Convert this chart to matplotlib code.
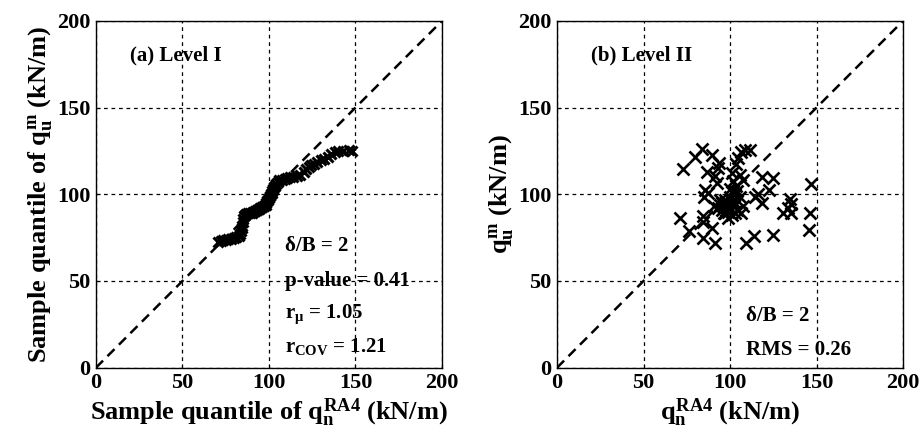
import matplotlib
matplotlib.use("Agg")
import matplotlib.pyplot as plt

plt.rcParams['font.family'] = ['Liberation Serif', 'DejaVu Serif']
plt.rcParams['font.weight'] = 'bold'
plt.rcParams['mathtext.fontset'] = 'custom'
plt.rcParams['mathtext.rm'] = 'Liberation Serif:bold'
plt.rcParams['mathtext.it'] = 'Liberation Serif:bold'
plt.rcParams['mathtext.bf'] = 'Liberation Serif:bold'

# ---- Panel (a): QQ plot sample quantiles ----
qq_x = [70.5, 72, 73.5, 75, 76.5, 78, 79.5, 81, 82.5,
        83.5, 84, 84.2, 84.5, 84.8, 85, 85.5, 86,
        87, 88, 89, 90, 91, 92, 93, 94, 95, 96, 97, 98, 98.5, 99, 99.5,
        100, 100.5, 101, 101.5, 102, 102.5, 103, 103.5, 104, 105, 106,
        107.5, 109, 110.5, 112, 114, 116, 118, 120, 121.5, 123, 124.5,
        126, 128, 130, 132, 134, 136, 138, 140, 143, 146, 148]
qq_y = [72.5, 73, 73.5, 73.5, 74, 74.5, 75, 75.5, 76,
        77, 79, 80.5, 82, 84, 86, 87.5, 88,
        88.5, 89, 89, 89.5, 90, 90.5, 91, 91.5, 92, 92.5, 93, 94, 95, 96, 97,
        98, 99, 100, 101, 102, 103, 104, 105, 106, 107, 108,
        108.5, 109, 109.5, 110, 110, 110.5, 111, 113, 114.5, 116, 117,
        117.5, 118.5, 119.5, 120.5, 121.5, 123, 124.5, 125, 125, 125.5, 125]

# ---- Panel (b): predicted vs measured ----
pb_x = [72.6, 79.7, 84.0, 89.7, 93.6, 93.2, 86.5, 91.3, 92.2, 85.5, 84.9, 87.4,
        71.1, 76.5, 84.2, 84.5, 89.7, 84.5, 91.4, 109.5, 113.9, 124.9, 145.4,
        146.0, 146.6, 134.5, 135.0, 130.6, 135.5, 133.5, 124.9, 122.4, 118.2,
        114.7, 116.2, 118.2, 111.4, 108.5, 106.2, 104.7, 103.7, 105.7, 101.8,
        107.6, 103.7, 100.9, 105.7, 106.6, 102.8, 98.9, 94.1, 97.0, 98.0, 95.1,
        99.9, 97.0, 100.9, 102.2, 90.7, 104.1, 99.9, 107.6, 94.1, 101.4,
        96.0, 97.5, 99.0, 95.5, 98.5, 100.5, 96.5, 101.0, 93.0, 97.0, 99.0,
        102.0, 103.0, 104.0, 100.0]
pb_y = [114.5, 121.8, 126.3, 122.8, 118.0, 115.0, 112.6, 110.3, 106.8, 102.6, 98.7, 101.0,
        86.2, 79.1, 87.6, 84.3, 80.8, 74.7, 71.8, 72.2, 76.0, 76.6, 79.5,
        89.5, 105.9, 97.2, 94.3, 89.1, 89.5, 92.0, 109.3, 102.6, 109.9,
        98.7, 100.0, 94.9, 125.7, 125.7, 124.2, 120.9, 117.6, 111.3, 107.4,
        108.4, 104.5, 101.6, 98.7, 89.1, 89.1, 86.2, 93.9, 94.9, 92.0, 91.0,
        92.0, 89.1, 95.9, 93.0, 93.5, 91.0, 98.7, 93.0, 96.9, 112.2,
        93.0, 91.0, 90.0, 95.0, 93.5, 91.5, 89.5, 88.0, 92.0, 97.0, 95.0,
        96.0, 100.0, 102.0, 103.0]

ticks = [0, 50, 100, 150, 200]

fig = plt.figure(figsize=(9.21, 4.34), dpi=100)
ax1 = fig.add_axes([0.1042, 0.1528, 0.3757, 0.799])
ax2 = fig.add_axes([0.6048, 0.1528, 0.3757, 0.799])

for ax in (ax1, ax2):
    ax.set_xlim(0, 200)
    ax.set_ylim(0, 200)
    ax.set_xticks(ticks)
    ax.set_yticks(ticks)
    ax.grid(True, color='black', linestyle=(0, (3, 3)), linewidth=0.9)
    ax.plot([0, 200], [0, 200], color='black', linestyle=(0, (4, 2.5)),
            linewidth=1.8, zorder=3)
    ax.tick_params(direction='in', length=3, labelsize=16, pad=4)
    for lab in ax.get_xticklabels() + ax.get_yticklabels():
        lab.set_fontweight('bold')
    for s in ax.spines.values():
        s.set_linewidth(1.0)

ax1.plot(qq_x, qq_y, linestyle='none', marker='x', color='black',
         markersize=7, markeredgewidth=2.2, zorder=4)
ax2.plot(pb_x, pb_y, linestyle='none', marker='x', color='black',
         markersize=8.5, markeredgewidth=1.9, zorder=4)

ax1.set_xlabel(r'Sample quantile of $q_n^{RA4}$ (kN/m)', fontsize=19,
               fontweight='bold', labelpad=2)
ax1.set_ylabel(r'Sample quantile of $q_u^{m}$ (kN/m)', fontsize=19,
               fontweight='bold', labelpad=2)
ax2.set_xlabel(r'$q_n^{RA4}$ (kN/m)', fontsize=19, fontweight='bold', labelpad=2)
ax2.set_ylabel(r'$q_u^{m}$ (kN/m)', fontsize=19, fontweight='bold', labelpad=2)

fs = 15
ax1.text(19.5, 180, '(a) Level I', fontsize=fs, fontweight='bold', va='center')
ax1.text(109.5, 70, 'δ/B = 2', fontsize=fs, fontweight='bold', va='center')
ax1.text(109.5, 50, 'p-value = 0.41', fontsize=fs, fontweight='bold', va='center')
ax1.text(109.5, 31, r'r$_{\mu}$ = 1.05', fontsize=fs, fontweight='bold', va='center')
ax1.text(109.5, 12, r'r$_{COV}$ = 1.21', fontsize=fs, fontweight='bold', va='center')

ax2.text(19.5, 180, '(b) Level II', fontsize=fs, fontweight='bold', va='center')
ax2.text(109.5, 30, 'δ/B = 2', fontsize=fs, fontweight='bold', va='center')
ax2.text(109.5, 10, 'RMS = 0.26', fontsize=fs, fontweight='bold', va='center')

fig.savefig('out.png', dpi=100)
